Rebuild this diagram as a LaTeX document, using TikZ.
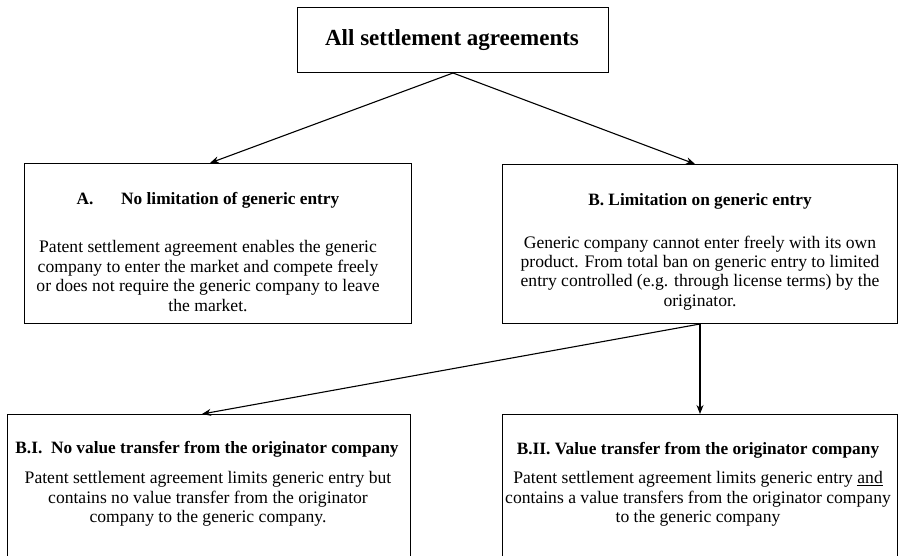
\documentclass[tikz,border=0pt]{standalone}
\usepackage{fontspec}
\setmainfont{Liberation Serif}
\usetikzlibrary{arrows.meta}
\begin{document}
\begin{tikzpicture}[x=1pt,y=-1pt,
  box/.style={draw,line width=1pt,inner sep=0pt,anchor=north west},
  hdr/.style={font=\fontsize{17.3}{19}\selectfont\bfseries,align=center,inner sep=0pt},
  body/.style={font=\fontsize{17.6}{19.4}\selectfont,align=center,inner sep=0pt},
  arr/.style={-{Stealth[length=9pt,width=7pt]},line width=1.1pt}]
\useasboundingbox (0,0) rectangle (900,556);
% boxes
\node[box,minimum width=311pt,minimum height=65pt] (top) at (297,7) {};
\node[box,minimum width=387pt,minimum height=160pt] (A) at (24,163) {};
\node[box,minimum width=395pt,minimum height=159pt] (B) at (502,164) {};
\node[box,minimum width=403pt,minimum height=150pt] (BI) at (7,414) {};
\node[box,minimum width=395pt,minimum height=160pt] (BII) at (502,414) {};
% texts
\node[font=\fontsize{23}{26}\selectfont\bfseries,inner sep=0pt] (title) at (452,40) {All settlement agreements};
\node[hdr] (hA) at (208,200) {A.\hspace{1.6em}No limitation of generic entry};
\node[body] (bA) at (208,276) {Patent settlement agreement enables the generic\\
company to enter the market and compete freely\\
or does not require the generic company to leave\\
the market.};
\node[hdr] (hB) at (700,201) {B. Limitation on generic entry};
\node[body] (bB) at (700,273) {Generic company cannot enter freely with its own\\
product. From total ban on generic entry to limited\\
entry controlled (e.g. through license terms) by the\\
originator.};
\node[hdr] (hBI) at (207,449) {B.I.\ \ No value transfer from the originator company};
\node[body] (bBI) at (208,499) {Patent settlement agreement limits generic entry but\\
contains no value transfer from the originator\\
company to the generic company.};
\node[hdr] (hBII) at (698,450) {B.II. Value transfer from the originator company};
\node[body] (bBII) at (698,499) {Patent settlement agreement limits generic entry \underline{and}\\
contains a value transfers from the originator company\\
to the generic company};
% connectors
\coordinate (tA) at (210,163);
\coordinate (tB) at (695,164);
\coordinate (tBI) at (202,414);
\draw[arr] (top.south) -- (tA);
\draw[arr] (top.south) -- (tB);
\draw[arr] (B.south) -- (tBI);
\draw[arr] (B.south) -- (BII.north);
\end{tikzpicture}
\end{document}
